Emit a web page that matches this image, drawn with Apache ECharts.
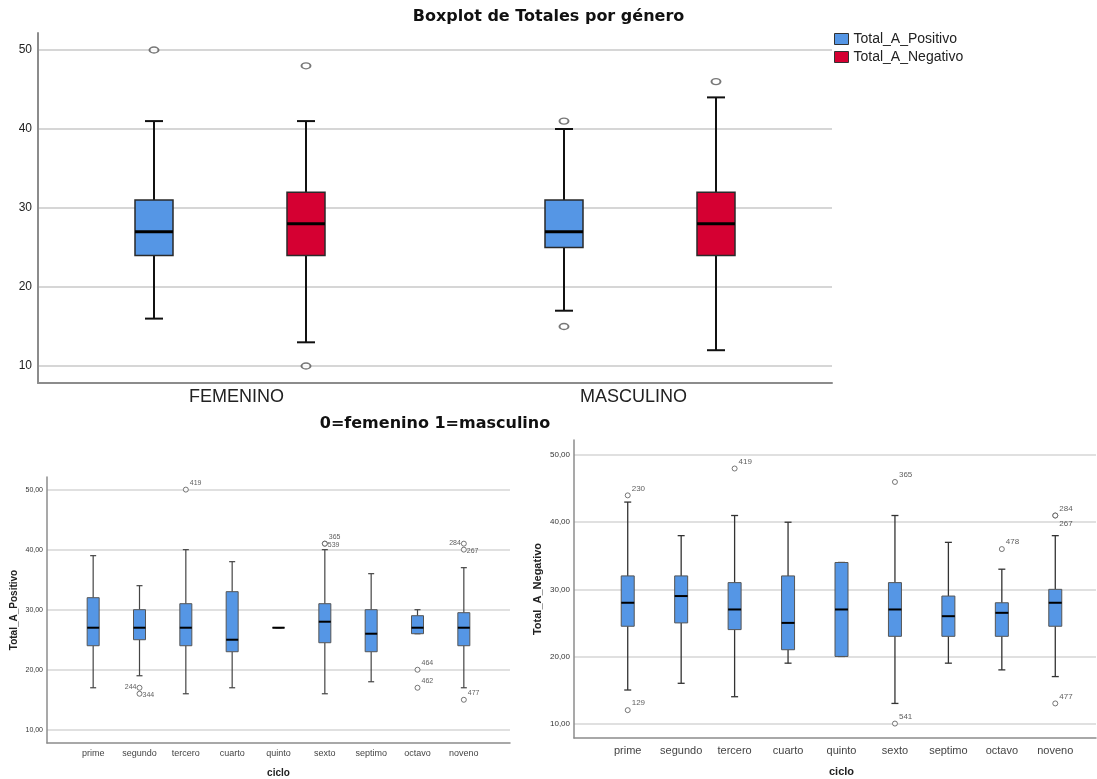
<!DOCTYPE html>
<html>
<head>
<meta charset="utf-8">
<script src="https://cdn.jsdelivr.net/npm/echarts@6/dist/echarts.min.js"></script>
<style>
html,body{margin:0;padding:0;background:#fff;}
#chart{width:1097px;height:779px;}
</style>
</head>
<body>
<div id="chart"></div>
<script>
// ---------- DATA ----------
const generoCategories = ['FEMENINO', 'MASCULINO'];
// [min, Q1, median, Q3, max]
const positivoGeneroBox = [[16, 24, 27, 31, 41], [17, 25, 27, 31, 40]];
const negativoGeneroBox = [[13, 24, 28, 32, 41], [12, 24, 28, 32, 44]];
// [categoryIndex, value]
const positivoGeneroOutliers = [[0, 50], [1, 41], [1, 15]];
const negativoGeneroOutliers = [[0, 48], [0, 10], [1, 46]];
const generoTicks = [10, 20, 30, 40, 50];

const cicloCategories = ['prime', 'segundo', 'tercero', 'cuarto', 'quinto', 'sexto', 'septimo', 'octavo', 'noveno'];
const positivoCicloBox = [
  [17, 24, 27, 32, 39],
  [19, 25, 27, 30, 34],
  [16, 24, 27, 31, 40],
  [17, 23, 25, 33, 38],
  [27, 27, 27, 27, 27],
  [16, 24.5, 28, 31, 40],
  [18, 23, 26, 30, 36],
  [26, 26, 27, 29, 30],
  [17, 24, 27, 29.5, 37]
];
// [categoryIndex, value, case label]
const positivoCicloOutliers = [
  [1, 17, '244'], [1, 16, '344'], [2, 50, '419'], [5, 41, '365'], [5, 41, '539'],
  [7, 20, '464'], [7, 17, '462'], [8, 41, '284'], [8, 40, '267'], [8, 15, '477']
];
const negativoCicloBox = [
  [15, 24.5, 28, 32, 43],
  [16, 25, 29, 32, 38],
  [14, 24, 27, 31, 41],
  [19, 21, 25, 32, 40],
  [20, 20, 27, 34, 34],
  [13, 23, 27, 31, 41],
  [19, 23, 26, 29, 37],
  [18, 23, 26.5, 28, 33],
  [17, 24.5, 28, 30, 38]
];
const negativoCicloOutliers = [
  [0, 44, '230'], [0, 12, '129'], [2, 48, '419'], [5, 46, '365'], [5, 10, '541'],
  [7, 36, '478'], [8, 41, '284'], [8, 41, '267'], [8, 13, '477']
];
const cicloTicks = [10, 20, 30, 40, 50];

// ---------- STYLE ----------
const BLUE = '#5596E5';
const RED = '#D50032';
const GRIDLINE = '#D6D6D6';
const AXISLINE = '#8C8C8C';
const FONT = 'Liberation Sans, Arial, sans-serif';

const placeLeft = { '244': 'left', '344': 'right', '539': 'right', '284': 'left', '267': 'right' };
const placeRight = { '267': 'bottomright' };

function labelStyle(place, size) {
  const base = { show: true, formatter: '{b}', fontSize: size, color: '#333', fontFamily: FONT };
  if (place === 'left') return Object.assign(base, { position: 'left', distance: 0, offset: [0, -1] });
  if (place === 'right') return Object.assign(base, { position: 'right', distance: 0, offset: [0, 1] });
  if (place === 'bottomright') return Object.assign(base, { position: 'right', distance: 1, offset: [0, 8] });
  return Object.assign(base, { position: 'right', distance: 1, offset: [0, -7] });
}

function outlierData(list, placeMap, size) {
  return list.map(o => ({ value: [o[0], o[1]], name: o[2], label: labelStyle(placeMap[o[2]], size) }));
}

// box + whiskers drawn through the axes (api.coord)
function boxRenderer(st) {
  return function (params, api) {
    const c = api.value(0);
    const pMin = api.coord([c, api.value(1)]);
    const pQ1 = api.coord([c, api.value(2)]);
    const pMed = api.coord([c, api.value(3)]);
    const pQ3 = api.coord([c, api.value(4)]);
    const pMax = api.coord([c, api.value(5)]);
    const x = pMin[0];
    const hb = st.boxW / 2, hc = st.capW / 2;
    const wl = { stroke: st.whisker, lineWidth: st.whiskerW };
    return {
      type: 'group',
      children: [
        { type: 'line', shape: { x1: x, y1: pMax[1], x2: x, y2: pQ3[1] }, style: wl },
        { type: 'line', shape: { x1: x, y1: pQ1[1], x2: x, y2: pMin[1] }, style: wl },
        { type: 'line', shape: { x1: x - hc, y1: pMax[1], x2: x + hc, y2: pMax[1] }, style: wl },
        { type: 'line', shape: { x1: x - hc, y1: pMin[1], x2: x + hc, y2: pMin[1] }, style: wl },
        { type: 'rect', shape: { x: x - hb, y: pQ3[1], width: st.boxW, height: pQ1[1] - pQ3[1] },
          style: { fill: st.fill, stroke: st.border, lineWidth: st.borderW } },
        { type: 'line', shape: { x1: x - hb, y1: pMed[1], x2: x + hb, y2: pMed[1] },
          style: { stroke: '#000', lineWidth: st.medW } }
      ]
    };
  };
}

function boxSeries(name, xi, boxes, st) {
  return {
    name: name, type: 'custom', xAxisIndex: xi, yAxisIndex: xi,
    data: boxes.map((b, i) => [i].concat(b)),
    encode: { x: 0, y: [1, 2, 3, 4, 5] },
    itemStyle: { color: st.fill },
    renderItem: boxRenderer(st), silent: true
  };
}

const frameY = (min, max, ticks, fmt, size, extra) => Object.assign({
  type: 'value', min: min, max: max,
  axisLine: { show: true, lineStyle: { color: AXISLINE, width: 1.5 } },
  axisTick: { show: false, customValues: ticks },
  axisLabel: { customValues: ticks, formatter: fmt, fontSize: size, color: '#333', fontFamily: FONT, margin: 4 },
  splitLine: { show: true, lineStyle: { color: GRIDLINE, width: 1.5 } }
}, extra || {});

const hiddenY = (gi, min, max) => ({ gridIndex: gi, type: 'value', min: min, max: max, show: false, splitLine: { show: false } });

const fmt2 = v => v.toFixed(2).replace('.', ',');

const topStyle = (fill) => ({ boxW: 38, capW: 18, fill: fill, border: '#2a2a2a', borderW: 1.5, whisker: '#111', whiskerW: 2, medW: 3 });
const leftStyle = { boxW: 12, capW: 6, fill: BLUE, border: '#555', borderW: 1, whisker: '#444', whiskerW: 1.2, medW: 2 };
const rightStyle = { boxW: 13, capW: 7, fill: BLUE, border: '#555', borderW: 1, whisker: '#333', whiskerW: 1.3, medW: 2 };

const option = {
  animation: false,
  backgroundColor: '#fff',
  title: {
    text: 'Boxplot de Totales por género',
    left: 'center', top: 9, padding: [0, 0, 0, 13],
    textStyle: { fontSize: 16, fontWeight: 'bold', color: '#111', fontFamily: 'DejaVu Sans, sans-serif' }
  },
  legend: {
    orient: 'vertical', left: 834, top: 32, padding: 0,
    itemWidth: 14, itemHeight: 11, itemGap: 4, icon: 'rect', selectedMode: false,
    data: [
      { name: 'Total_A_Positivo', itemStyle: { color: BLUE, borderColor: '#333', borderWidth: 1 } },
      { name: 'Total_A_Negativo', itemStyle: { color: RED, borderColor: '#333', borderWidth: 1 } }
    ],
    textStyle: { fontSize: 14, color: '#222', fontFamily: FONT }
  },
  grid: [
    { left: 38, top: 33, width: 794, height: 350, outerBoundsMode: 'none' },
    { left: 154, top: 33, width: 410, height: 350, outerBoundsMode: 'none' },
    { left: 306, top: 33, width: 410, height: 350, outerBoundsMode: 'none' },
    { left: 47, top: 477, width: 463, height: 266, outerBoundsMode: 'none' },
    { left: 70, top: 477, width: 417, height: 266, outerBoundsMode: 'none' },
    { left: 574, top: 440, width: 522, height: 298, outerBoundsMode: 'none' },
    { left: 601, top: 440, width: 481, height: 298, outerBoundsMode: 'none' }
  ],
  xAxis: [
    {
      gridIndex: 0, type: 'category', data: generoCategories,
      axisLine: { lineStyle: { color: AXISLINE, width: 2 } }, axisTick: { show: false },
      axisLabel: { fontSize: 18, color: '#222', fontFamily: FONT, margin: 5 },
      name: '0=femenino 1=masculino', nameLocation: 'middle', nameGap: 33,
      nameTextStyle: { fontSize: 16, fontWeight: 'bold', color: '#111', fontFamily: 'DejaVu Sans, sans-serif' }
    },
    { gridIndex: 1, type: 'category', data: generoCategories, boundaryGap: false, show: false },
    { gridIndex: 2, type: 'category', data: generoCategories, boundaryGap: false, show: false },
    {
      gridIndex: 3, type: 'category', data: cicloCategories,
      axisLine: { lineStyle: { color: AXISLINE, width: 1.5 } }, axisTick: { show: false }, axisLabel: { show: false }
    },
    {
      gridIndex: 4, type: 'category', data: cicloCategories,
      axisLine: { show: false }, axisTick: { show: false },
      axisLabel: { interval: 0, fontSize: 9, color: '#444', fontFamily: FONT, margin: 6 },
      name: 'ciclo', nameLocation: 'middle', nameGap: 25,
      nameTextStyle: { fontSize: 10, fontWeight: 'bold', color: '#222', fontFamily: FONT }
    },
    {
      gridIndex: 5, type: 'category', data: cicloCategories,
      axisLine: { lineStyle: { color: AXISLINE, width: 1.5 } }, axisTick: { show: false }, axisLabel: { show: false }
    },
    {
      gridIndex: 6, type: 'category', data: cicloCategories,
      axisLine: { show: false }, axisTick: { show: false },
      axisLabel: { interval: 0, fontSize: 11, color: '#444', fontFamily: FONT, margin: 7 },
      name: 'ciclo', nameLocation: 'middle', nameGap: 28,
      nameTextStyle: { fontSize: 11, fontWeight: 'bold', color: '#222', fontFamily: FONT }
    }
  ],
  yAxis: [
    Object.assign(frameY(7.85, 52.15, generoTicks, v => String(v), 12, {}), {
      gridIndex: 0,
      axisLine: { show: true, lineStyle: { color: AXISLINE, width: 2 } },
      axisLabel: { customValues: generoTicks, fontSize: 12, color: '#222', fontFamily: FONT, margin: 6 },
      splitLine: { show: true, lineStyle: { color: GRIDLINE, width: 2 } }
    }),
    hiddenY(1, 7.85, 52.15),
    hiddenY(2, 7.85, 52.15),
    frameY(7.8, 52.1, cicloTicks, fmt2, 7, {
      gridIndex: 3, name: 'Total_A_Positivo', nameLocation: 'middle', nameRotate: 90, nameGap: 28,
      nameTextStyle: { fontSize: 10, fontWeight: 'bold', color: '#222', fontFamily: FONT }
    }),
    hiddenY(4, 7.8, 52.1),
    frameY(7.85, 52.25, cicloTicks, fmt2, 8, {
      gridIndex: 5, name: 'Total_A_Negativo', nameLocation: 'middle', nameRotate: 90, nameGap: 31,
      nameTextStyle: { fontSize: 11, fontWeight: 'bold', color: '#222', fontFamily: FONT }
    }),
    hiddenY(6, 7.85, 52.25)
  ],
  series: [
    boxSeries('Total_A_Positivo', 1, positivoGeneroBox, topStyle(BLUE)),
    boxSeries('Total_A_Negativo', 2, negativoGeneroBox, topStyle(RED)),
    {
      name: 'Positivo atípicos', type: 'scatter', xAxisIndex: 1, yAxisIndex: 1,
      data: positivoGeneroOutliers, symbol: 'circle', symbolSize: [9, 6],
      itemStyle: { color: '#fff', borderColor: '#555', borderWidth: 1.6 }, emphasis: { disabled: true }
    },
    {
      name: 'Negativo atípicos', type: 'scatter', xAxisIndex: 2, yAxisIndex: 2,
      data: negativoGeneroOutliers, symbol: 'circle', symbolSize: [9, 6],
      itemStyle: { color: '#fff', borderColor: '#555', borderWidth: 1.6 }, emphasis: { disabled: true }
    },
    boxSeries('Positivo por ciclo', 4, positivoCicloBox, leftStyle),
    {
      name: 'Positivo ciclo atípicos', type: 'scatter', xAxisIndex: 4, yAxisIndex: 4,
      data: outlierData(positivoCicloOutliers, placeLeft, 7), symbol: 'circle', symbolSize: 5,
      itemStyle: { color: '#fff', borderColor: '#555', borderWidth: 1 }, emphasis: { disabled: true }
    },
    boxSeries('Negativo por ciclo', 6, negativoCicloBox, rightStyle),
    {
      name: 'Negativo ciclo atípicos', type: 'scatter', xAxisIndex: 6, yAxisIndex: 6,
      data: outlierData(negativoCicloOutliers, placeRight, 8), symbol: 'circle', symbolSize: 5,
      itemStyle: { color: '#fff', borderColor: '#555', borderWidth: 1 }, emphasis: { disabled: true }
    }
  ]
};

const chart = echarts.init(document.getElementById('chart'), null, { renderer: 'canvas' });
chart.setOption(option);
</script>
</body>
</html>
